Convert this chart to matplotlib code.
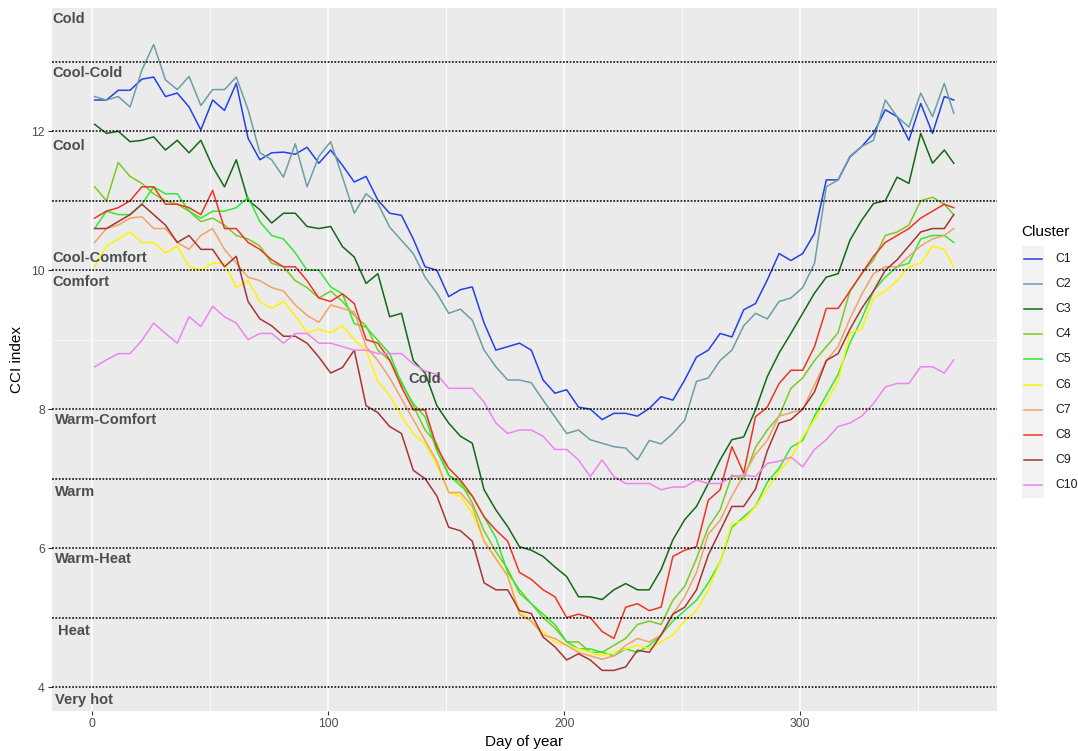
import matplotlib
matplotlib.use("Agg")
import matplotlib.pyplot as plt
from matplotlib.lines import Line2D
from matplotlib.patches import Rectangle

plt.rcParams['font.family'] = ['Liberation Sans', 'DejaVu Sans']

# ---------------- data ----------------
days = list(range(1, 362, 5)) + [365]

clusters = ["C1", "C2", "C3", "C4", "C5", "C6", "C7", "C8", "C9", "C10"]
colors = ["#2241E6", "#6A9FA6", "#146914", "#7ACB22", "#30EA30",
          "#FFF200", "#F2A264", "#EE3524", "#A83434", "#EE84EE"]

c1 = [12.45, 12.45, 12.59, 12.59, 12.75, 12.78, 12.5, 12.55, 12.35, 12.02,
      12.45, 12.3, 12.69, 11.9, 11.59, 11.69, 11.7, 11.67, 11.77, 11.54,
      11.73, 11.51, 11.27, 11.35, 11.01, 10.82, 10.79, 10.45, 10.05, 10.0,
      9.62, 9.72, 9.76, 9.24, 8.85, 8.9, 8.95, 8.85, 8.42, 8.23,
      8.28, 8.03, 8.0, 7.85, 7.94, 7.94, 7.9, 8.01, 8.18, 8.13,
      8.42, 8.75, 8.85, 9.09, 9.04, 9.43, 9.52, 9.86, 10.24, 10.14,
      10.24, 10.53, 11.3, 11.3, 11.63, 11.78, 11.97, 12.31, 12.21, 11.87,
      12.4, 11.97, 12.5, 12.45]
c2 = [12.5, 12.45, 12.5, 12.35, 12.88, 13.25, 12.74, 12.6, 12.79, 12.37,
      12.6, 12.6, 12.78, 12.31, 11.69, 11.59, 11.34, 11.82, 11.2, 11.64,
      11.85, 11.34, 10.82, 11.1, 10.96, 10.62, 10.43, 10.24, 9.9, 9.67,
      9.38, 9.44, 9.28, 8.85, 8.61, 8.42, 8.42, 8.38, 8.13, 7.89,
      7.65, 7.7, 7.56, 7.51, 7.46, 7.44, 7.27, 7.55, 7.5, 7.65,
      7.84, 8.4, 8.45, 8.7, 8.85, 9.2, 9.38, 9.3, 9.55, 9.6,
      9.75, 10.1, 11.2, 11.3, 11.64, 11.78, 11.87, 12.45, 12.21, 12.06,
      12.55, 12.21, 12.69, 12.26]
c3 = [12.1, 11.97, 12.0, 11.85, 11.87, 11.92, 11.73, 11.87, 11.69, 11.87,
      11.49, 11.2, 11.59, 11.01, 10.87, 10.68, 10.82, 10.82, 10.63, 10.6,
      10.63, 10.34, 10.19, 9.81, 9.95, 9.33, 9.38, 8.7, 8.52, 8.05,
      7.8, 7.61, 7.51, 6.84, 6.55, 6.31, 6.02, 5.97, 5.88, 5.73,
      5.59, 5.3, 5.3, 5.26, 5.4, 5.49, 5.4, 5.4, 5.69, 6.12,
      6.41, 6.6, 6.93, 7.27, 7.56, 7.6, 7.99, 8.47, 8.81, 9.09,
      9.38, 9.67, 9.9, 9.95, 10.43, 10.72, 10.96, 11.0, 11.34, 11.25,
      11.97, 11.54, 11.73, 11.54]
c4 = [11.2, 11.0, 11.55, 11.35, 11.25, 11.1, 11.0, 10.95, 10.85, 10.7,
      10.75, 10.65, 10.5, 10.45, 10.35, 10.1, 10.05, 9.85, 9.75, 9.6,
      9.7, 9.55, 9.35, 9.2, 8.85, 8.7, 8.4, 8.05, 7.7, 7.5,
      7.05, 6.95, 6.65, 6.25, 5.95, 5.7, 5.35, 5.2, 5.0, 4.85,
      4.65, 4.65, 4.5, 4.5, 4.6, 4.7, 4.9, 4.95, 4.9, 5.25,
      5.45, 5.85, 6.3, 6.55, 7.05, 7.0, 7.45, 7.7, 7.9, 8.3,
      8.45, 8.7, 8.9, 9.1, 9.7, 9.95, 10.15, 10.5, 10.55, 10.65,
      11.0, 11.05, 10.95, 10.8]
c5 = [10.6, 10.85, 10.8, 10.8, 10.95, 11.2, 11.1, 11.1, 10.85, 10.75,
      10.85, 10.85, 10.9, 11.05, 10.7, 10.5, 10.45, 10.25, 10.0, 10.0,
      9.76, 9.66, 9.23, 9.18, 8.99, 8.8, 8.37, 8.08, 7.89, 7.4,
      7.05, 6.9, 6.75, 6.45, 6.15, 5.65, 5.4, 5.2, 5.05, 4.9,
      4.65, 4.55, 4.55, 4.5, 4.45, 4.55, 4.5, 4.6, 4.75, 4.95,
      5.1, 5.25, 5.5, 5.8, 6.3, 6.45, 6.6, 6.95, 7.15, 7.45,
      7.55, 7.9, 8.2, 8.5, 8.95, 9.3, 9.7, 9.9, 10.05, 10.1,
      10.45, 10.5, 10.5, 10.4]
c6 = [10.05, 10.35, 10.45, 10.55, 10.4, 10.4, 10.25, 10.35, 10.05, 10.0,
      10.1, 10.1, 9.75, 9.85, 9.55, 9.45, 9.55, 9.35, 9.1, 9.15,
      9.1, 9.2, 9.0, 8.85, 8.4, 8.2, 7.9, 7.65, 7.5, 7.2,
      6.8, 6.75, 6.5, 6.1, 5.85, 5.6, 5.1, 4.95, 4.8, 4.65,
      4.6, 4.55, 4.5, 4.45, 4.5, 4.55, 4.6, 4.55, 4.65, 4.75,
      4.95, 5.1, 5.4, 5.8, 6.35, 6.4, 6.6, 6.85, 7.1, 7.3,
      7.6, 7.85, 8.1, 8.4, 9.1, 9.15, 9.6, 9.7, 9.85, 10.05,
      10.1, 10.35, 10.3, 10.05]
c7 = [10.4, 10.6, 10.65, 10.75, 10.77, 10.6, 10.6, 10.4, 10.3, 10.5,
      10.6, 10.3, 10.1, 9.9, 9.85, 9.75, 9.7, 9.5, 9.35, 9.25,
      9.5, 9.45, 9.4, 8.9, 8.7, 8.45, 8.15, 7.85, 7.55, 7.25,
      6.8, 6.8, 6.6, 6.1, 5.85, 5.6, 5.05, 4.95, 4.75, 4.7,
      4.6, 4.5, 4.45, 4.4, 4.45, 4.6, 4.7, 4.65, 4.75, 5.05,
      5.3, 5.65, 6.2, 6.4, 6.75, 7.05, 7.35, 7.55, 7.9, 7.95,
      8.0, 8.35, 8.7, 8.9, 9.3, 9.65, 9.95, 10.05, 10.05, 10.2,
      10.35, 10.45, 10.5, 10.6]
c8 = [10.75, 10.85, 10.9, 11.0, 11.2, 11.2, 10.95, 10.95, 10.9, 10.8,
      11.15, 10.6, 10.6, 10.4, 10.3, 10.15, 10.05, 10.05, 9.85, 9.6,
      9.55, 9.66, 9.52, 9.0, 8.95, 8.71, 8.32, 7.99, 7.99, 7.45,
      7.15, 6.98, 6.75, 6.45, 6.26, 6.1, 5.65, 5.55, 5.4, 5.3,
      5.0, 5.05, 5.0, 4.8, 4.7, 5.15, 5.2, 5.1, 5.15, 5.88,
      5.97, 6.02, 6.69, 6.84, 7.46, 7.08, 7.89, 8.03, 8.37, 8.56,
      8.56, 8.9, 9.45, 9.45, 9.7, 9.95, 10.2, 10.4, 10.5, 10.6,
      10.75, 10.85, 10.95, 10.9]
c9 = [10.6, 10.6, 10.7, 10.8, 10.95, 10.8, 10.65, 10.4, 10.5, 10.3,
      10.3, 10.05, 10.2, 9.55, 9.3, 9.2, 9.05, 9.05, 8.95, 8.75,
      8.52, 8.6, 8.85, 8.05, 7.95, 7.75, 7.65, 7.12, 7.0, 6.75,
      6.3, 6.25, 6.1, 5.5, 5.4, 5.4, 5.1, 5.06, 4.72, 4.58,
      4.39, 4.48, 4.39, 4.24, 4.24, 4.29, 4.53, 4.5, 4.75, 5.05,
      5.15, 5.4, 5.9, 6.25, 6.6, 6.6, 6.85, 7.4, 7.8, 7.85,
      8.0, 8.25, 8.7, 8.8, 9.15, 9.45, 9.7, 10.0, 10.15, 10.35,
      10.55, 10.6, 10.6, 10.8]
c10 = [8.61, 8.71, 8.8, 8.8, 8.99, 9.24, 9.09, 8.95, 9.33, 9.19,
       9.48, 9.33, 9.24, 9.0, 9.09, 9.09, 8.95, 9.09, 9.09, 8.95,
       8.95, 8.9, 8.85, 8.85, 8.8, 8.8, 8.8, 8.65, 8.55, 8.5,
       8.3, 8.3, 8.3, 8.1, 7.8, 7.65, 7.7, 7.7, 7.61, 7.42,
       7.42, 7.27, 7.03, 7.27, 7.03, 6.93, 6.93, 6.93, 6.84, 6.88,
       6.88, 6.98, 6.93, 6.93, 7.03, 7.05, 7.03, 7.22, 7.25, 7.31,
       7.17, 7.42, 7.56, 7.75, 7.8, 7.9, 8.08, 8.32, 8.37, 8.37,
       8.61, 8.61, 8.52, 8.71]
series = [c1, c2, c3, c4, c5, c6, c7, c8, c9, c10]

zone_lines = [13, 12, 11, 10, 8, 7, 6, 5, 4]
zone_labels = ["Cold", "Cool-Cold", "Cool", "Cool-Comfort", "Comfort", "Cold",
               "Warm-Comfort", "Warm", "Warm-Heat", "Heat", "Very hot"]
zone_label_x = [-16.8, -16.8, -16.8, -16.8, -16.8, 134, -16, -15.6, -16, -14.7, -16]
zone_label_y = [13.61, 12.84, 11.79, 10.18, 9.83, 8.44, 7.85, 6.81, 5.85, 4.80, 3.82]

x_ticks = [0, 100, 200, 300]
y_ticks = [4, 6, 8, 10, 12]

# ---------------- figure ----------------
W, H = 1078, 751
fig = plt.figure(figsize=(W / 100, H / 100), dpi=100)
L, R, T, B = 51.7, 996.7, 8.3, 710.7
ax = fig.add_axes([L / W, 1 - B / H, (R - L) / W, (B - T) / H])
ax.set_facecolor("#EBEBEB")
for s in ax.spines.values():
    s.set_visible(False)

ax.set_xlim(1 - 18.2, 365 + 18.2)
ax.set_ylim(3.66, 13.77)
ax.set_xticks(x_ticks)
ax.set_yticks(y_ticks)
ax.set_xticks([50, 150, 250, 350], minor=True)
ax.set_yticks([5, 7, 9, 11, 13], minor=True)
ax.grid(which="major", color="white", linewidth=1.1)
ax.grid(which="minor", color="white", linewidth=0.55)
ax.set_axisbelow(True)
ax.tick_params(which="major", length=3, width=0.8, color="#333333",
               labelsize=8.8, labelcolor="#4D4D4D", pad=2)
ax.tick_params(which="minor", length=0)

for name, vals, col in zip(clusters, series, colors):
    ax.plot(days, vals, color=col, linewidth=1.1, label=name, solid_joinstyle="round")

for yv in zone_lines:
    ax.axhline(yv, color="black", linewidth=1.1, linestyle=(0, (1.2, 1.0)))

for txt, xv, yv in zip(zone_labels, zone_label_x, zone_label_y):
    ax.text(xv, yv, txt, ha="left", va="center", fontsize=10.5,
            fontweight="bold", color="#4D4D4D")

ax.set_xlabel("Day of year", fontsize=11, color="black", labelpad=4)
ax.set_ylabel("CCI index", fontsize=11, color="black", labelpad=5)

# ---------------- legend ----------------
fig.text(1021 / W, 1 - 232 / H, "Cluster", fontsize=11, ha="left", va="center")
step = 25.2
top_key = 246
fig.add_artist(Rectangle((1022 / W, 1 - (top_key + step * 10) / H), 21.5 / W,
                         step * 10 / H, transform=fig.transFigure,
                         facecolor="#F2F2F2", edgecolor="none"))
for i, (name, col) in enumerate(zip(clusters, colors)):
    yc = 1 - (258.5 + step * i) / H
    fig.add_artist(Line2D([1024 / W, 1042 / W], [yc, yc], color=col,
                          linewidth=1.1, transform=fig.transFigure))
    fig.text(1055 / W, yc, name, fontsize=8.8, ha="left", va="center", color="#1A1A1A")

fig.savefig("out.png", dpi=100, facecolor="white")
